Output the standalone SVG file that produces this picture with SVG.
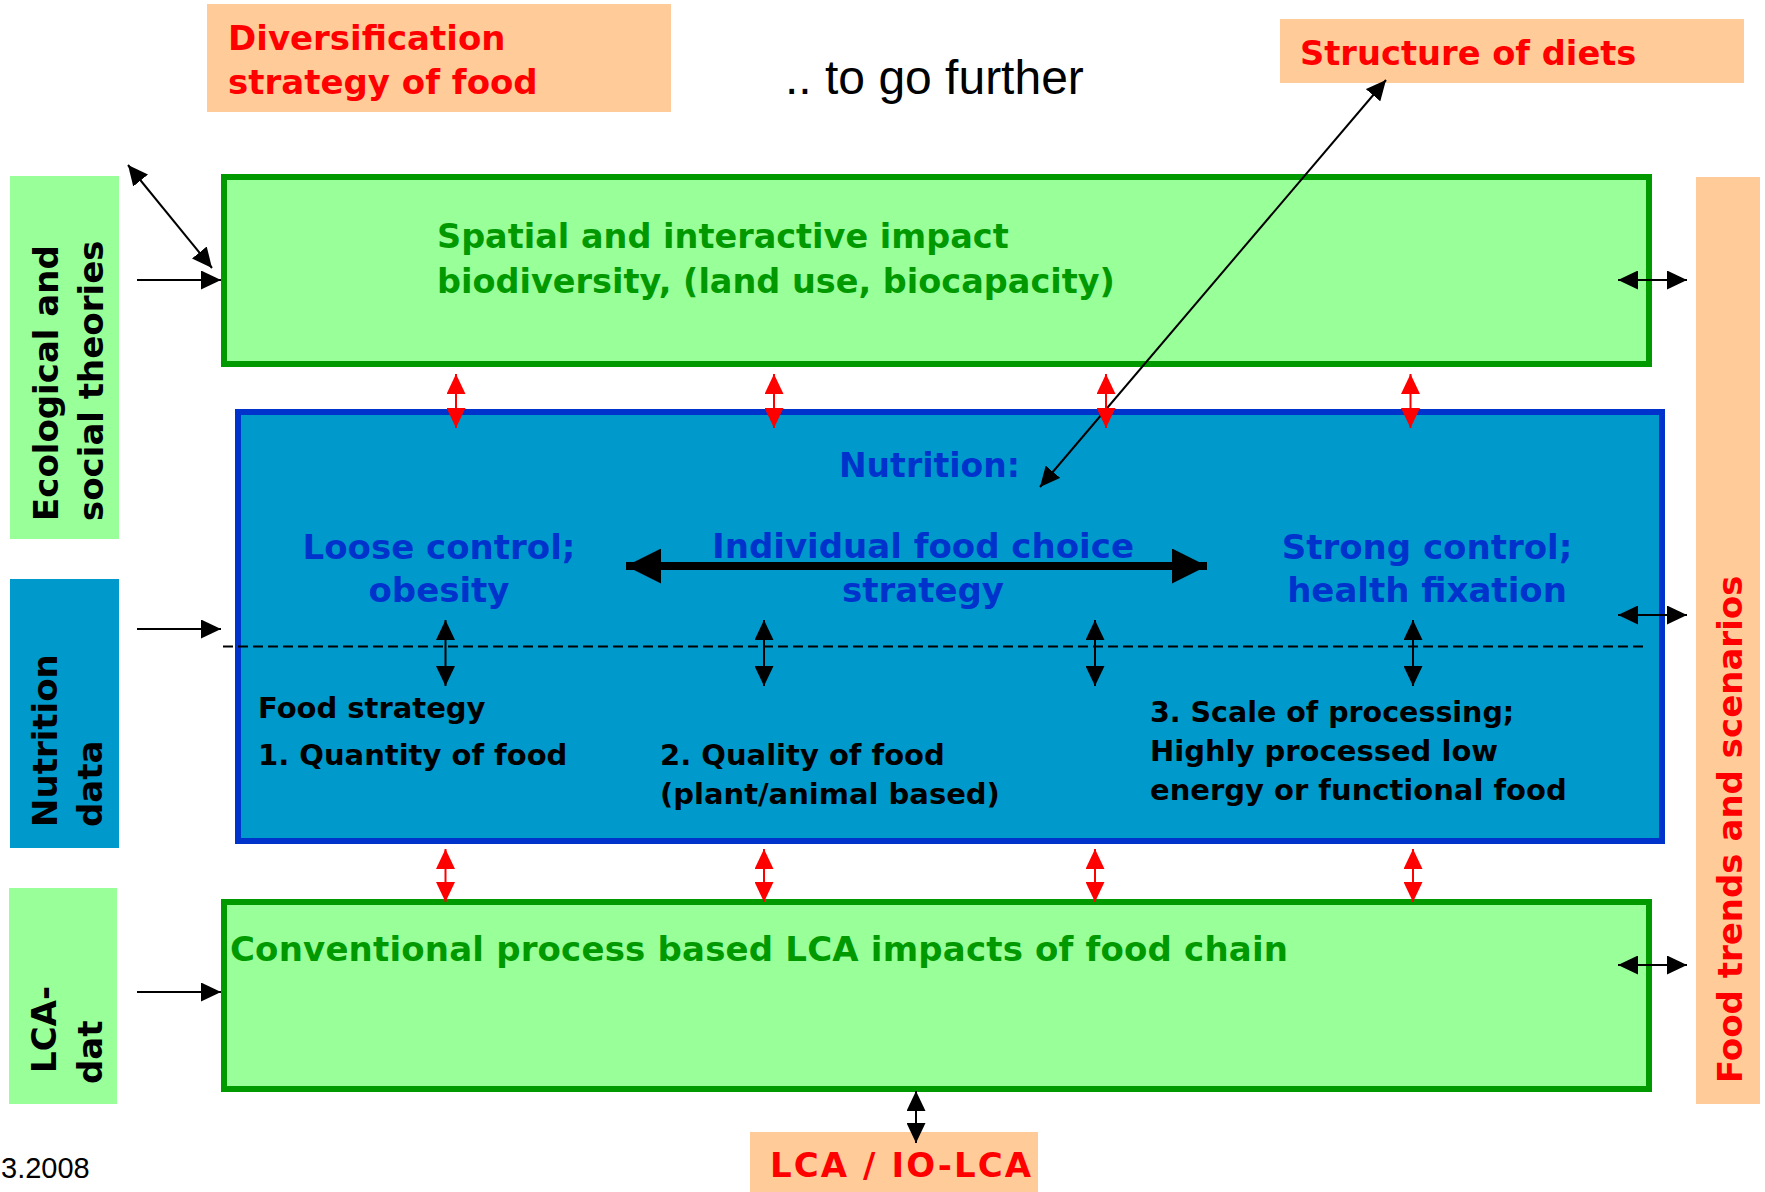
<svg xmlns="http://www.w3.org/2000/svg" width="1765" height="1192" viewBox="0 0 1765 1192">
<defs>
<style>
.peach{fill:#FFCC99}
.lg{fill:#99FF99}
.gbox{fill:#99FF99;stroke:#009900;stroke-width:6}
.bbox{fill:#0099CC;stroke:#0033CC;stroke-width:6}
.b{font-family:"DejaVu Sans","Verdana",sans-serif;font-weight:bold}
.t34{font-size:34px}
.t29{font-size:29px}
.red{fill:#FF0000}
.grn{fill:#009900}
.blu{fill:#0033CC}
.blk{fill:#000000}
.mid{text-anchor:middle}
.ln{stroke:#000;stroke-width:2;fill:none}
.rln{stroke:#FF0000;stroke-width:2;fill:none}
</style>
<marker id="ah" markerUnits="userSpaceOnUse" viewBox="0 0 20 19" markerWidth="20" markerHeight="19" refX="20" refY="9.5" orient="auto-start-reverse"><path d="M0,0 L20,9.5 L0,19 z" fill="#000"/></marker>
<marker id="rah" markerUnits="userSpaceOnUse" viewBox="0 0 20 19" markerWidth="20" markerHeight="19" refX="20" refY="9.5" orient="auto-start-reverse"><path d="M0,0 L20,9.5 L0,19 z" fill="#FF0000"/></marker>
<marker id="bah" markerUnits="userSpaceOnUse" viewBox="0 0 35 35" markerWidth="35" markerHeight="35" refX="35" refY="17.5" orient="auto-start-reverse"><path d="M0,0 L35,17.5 L0,35 z" fill="#000"/></marker>
</defs>
<rect width="1765" height="1192" fill="#FFFFFF"/>

<g id="diversification">
<rect class="peach" x="207" y="4" width="464" height="108"/>
<text class="b t34 red" x="228" y="50">Diversification</text>
<text class="b t34 red" x="228" y="94">strategy of food</text>
</g>

<g id="to-go-further">
<text x="785" y="94" font-family="Liberation Sans, Arial, sans-serif" font-size="48" fill="#000">.. to go further</text>
</g>

<g id="structure-of-diets">
<rect class="peach" x="1280" y="19" width="464" height="64"/>
<text class="b red" font-size="33.7" x="1300" y="65">Structure of diets</text>
</g>

<g id="ecological">
<rect class="lg" x="10" y="176" width="109" height="363"/>
<g transform="translate(58,521) rotate(-90)">
<text class="b t34 blk" x="0" y="0">Ecological and</text>
<text class="b t34 blk" x="0" y="45">social theories</text>
</g>
</g>

<g id="nutrition-data">
<rect fill="#0099CC" x="10" y="579" width="109" height="269"/>
<g transform="translate(57,827) rotate(-90)">
<text class="b t34 blk" x="0" y="0">Nutrition</text>
<text class="b t34 blk" x="0" y="45">data</text>
</g>
</g>

<g id="lca-dat">
<rect class="lg" x="9" y="888" width="108" height="216"/>
<text class="b t34 blk" transform="translate(56,1073) rotate(-90)">LCA-</text>
<text class="b t34 blk" transform="translate(102,1084) rotate(-90)">dat</text>
</g>

<g id="food-trends">
<rect class="peach" x="1696" y="177" width="64" height="927"/>
<text class="b t34 red" transform="translate(1742,1083) rotate(-90)">Food trends and scenarios</text>
</g>

<g id="spatial">
<rect class="gbox" x="224" y="177" width="1425" height="187"/>
<text class="b grn" font-size="33.5" x="437" y="248">Spatial and interactive impact</text>
<text class="b grn" font-size="33.5" x="437" y="293">biodiversity, (land use, biocapacity)</text>
</g>

<g id="nutrition">
<rect class="bbox" x="238" y="412" width="1424" height="429"/>
<text class="b blu" font-size="33" x="839" y="477">Nutrition:</text>
<text class="b t34 blu mid" x="439" y="559">Loose control;</text>
<text class="b t34 blu mid" x="439" y="602">obesity</text>
<text class="b t34 blu mid" x="923" y="558">Individual food choice</text>
<text class="b t34 blu mid" x="923" y="602">strategy</text>
<text class="b t34 blu mid" x="1427" y="559">Strong control;</text>
<text class="b t34 blu mid" x="1427" y="602">health fixation</text>
<text class="b t29 blk" x="258" y="718">Food strategy</text>
<text class="b t29 blk" x="258" y="765">1. Quantity of food</text>
<text class="b t29 blk" x="660" y="765">2. Quality of food</text>
<text class="b t29 blk" x="660" y="804">(plant/animal based)</text>
<text class="b blk" font-size="28.5" x="1150" y="722">3. Scale of processing;</text>
<text class="b t29 blk" x="1150" y="761">Highly processed low</text>
<text class="b t29 blk" x="1150" y="800">energy or functional food</text>
</g>

<g id="conventional-lca">
<rect class="gbox" x="224" y="902" width="1425" height="187"/>
<text class="b t34 grn" x="230" y="961" textLength="1058" lengthAdjust="spacing">Conventional process based LCA impacts of food chain</text>
</g>

<g id="lca-io-lca">
<rect class="peach" x="750" y="1132" width="288" height="60"/>
<text class="b t34 red" x="770" y="1177" textLength="261" lengthAdjust="spacing">LCA / IO-LCA</text>
</g>

<g id="date">
<text x="1" y="1178" font-family="Liberation Sans, Arial, sans-serif" font-size="29" fill="#000">3.2008</text>
</g>

<g id="connectors">
<line x1="223" y1="646.5" x2="1648" y2="646.5" stroke="#000" stroke-width="2" stroke-dasharray="10 5"/>
<line x1="626" y1="566" x2="1207" y2="566" stroke="#000" stroke-width="8" marker-start="url(#bah)" marker-end="url(#bah)"/>

<line class="ln" x1="137" y1="280" x2="221" y2="280" marker-end="url(#ah)"/>
<line class="ln" x1="137" y1="629" x2="221" y2="629" marker-end="url(#ah)"/>
<line class="ln" x1="137" y1="992" x2="221" y2="992" marker-end="url(#ah)"/>
<line class="ln" x1="128" y1="165" x2="212" y2="268" marker-start="url(#ah)" marker-end="url(#ah)"/>
<line class="ln" x1="1040" y1="487" x2="1386" y2="80" marker-start="url(#ah)" marker-end="url(#ah)"/>

<line class="ln" x1="1618" y1="280" x2="1687" y2="280" marker-start="url(#ah)" marker-end="url(#ah)"/>
<line class="ln" x1="1618" y1="615" x2="1687" y2="615" marker-start="url(#ah)" marker-end="url(#ah)"/>
<line class="ln" x1="1618" y1="965" x2="1687" y2="965" marker-start="url(#ah)" marker-end="url(#ah)"/>

<line class="ln" x1="445.5" y1="620" x2="445.5" y2="686" marker-start="url(#ah)" marker-end="url(#ah)"/>
<line class="ln" x1="764" y1="620" x2="764" y2="686" marker-start="url(#ah)" marker-end="url(#ah)"/>
<line class="ln" x1="1095" y1="620" x2="1095" y2="686" marker-start="url(#ah)" marker-end="url(#ah)"/>
<line class="ln" x1="1413" y1="620" x2="1413" y2="686" marker-start="url(#ah)" marker-end="url(#ah)"/>

<line class="rln" x1="456" y1="374" x2="456" y2="428" marker-start="url(#rah)" marker-end="url(#rah)"/>
<line class="rln" x1="774" y1="374" x2="774" y2="428" marker-start="url(#rah)" marker-end="url(#rah)"/>
<line class="rln" x1="1106" y1="374" x2="1106" y2="428" marker-start="url(#rah)" marker-end="url(#rah)"/>
<line class="rln" x1="1410.5" y1="374" x2="1410.5" y2="428" marker-start="url(#rah)" marker-end="url(#rah)"/>

<line class="rln" x1="445.5" y1="849" x2="445.5" y2="902" marker-start="url(#rah)" marker-end="url(#rah)"/>
<line class="rln" x1="764" y1="849" x2="764" y2="902" marker-start="url(#rah)" marker-end="url(#rah)"/>
<line class="rln" x1="1095" y1="849" x2="1095" y2="902" marker-start="url(#rah)" marker-end="url(#rah)"/>
<line class="rln" x1="1413" y1="849" x2="1413" y2="902" marker-start="url(#rah)" marker-end="url(#rah)"/>

<line class="ln" x1="916" y1="1091" x2="916" y2="1143" marker-start="url(#ah)" marker-end="url(#ah)"/>
</g>
</svg>
